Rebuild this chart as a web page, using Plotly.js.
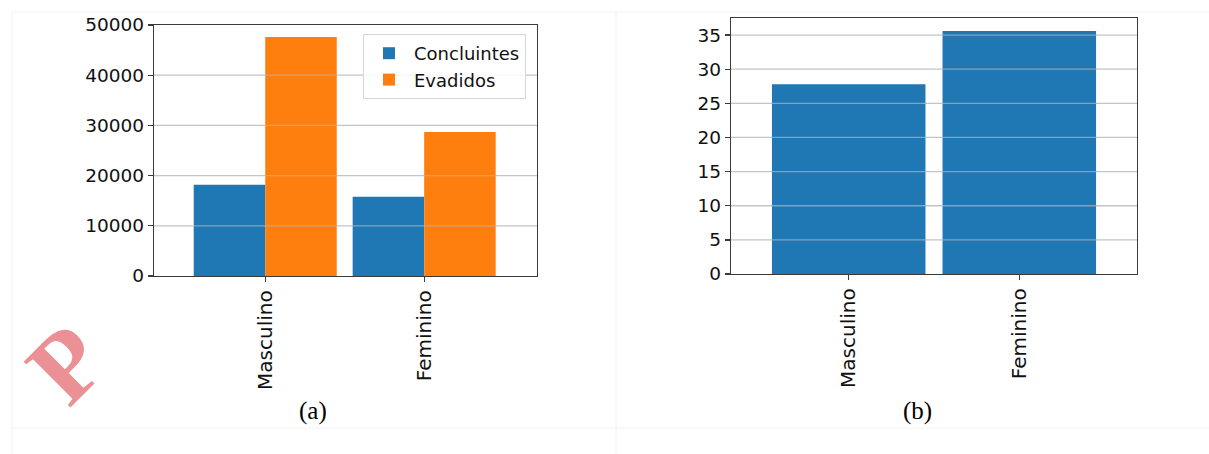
<!DOCTYPE html>
<html>
<head>
<meta charset="utf-8">
<script src="https://cdn.plot.ly/plotly-3.0.1.min.js"></script>
<style>
html,body{margin:0;padding:0;background:#fff;}
#chart{width:1209px;height:454px;}
</style>
</head>
<body>
<div id="chart"></div>
<script>
// ---- data ----
var categories = ["Masculino", "Feminino"];
var concluintes = [18200, 15800];
var evadidos = [47600, 28700];
var percentEvasao = [27.8, 35.6];
var yTicksA = [0, 10000, 20000, 30000, 40000, 50000];
var yTicksB = [0, 5, 10, 15, 20, 25, 30, 35];
var panelLabels = ["(a)", "(b)"];

var W = 1209, H = 454;
function px(x){ return x / W; }
function py(y){ return 1 - y / H; }

var blue = "#1f77b4", orange = "#ff7f0e";
var tickFont = {family: "DejaVu Sans", size: 18.5, color: "#111"};
var xTickFont = {family: "DejaVu Sans", size: 20, color: "#111"};

var traces = [
  {type: "bar", x: categories, y: concluintes, name: "Concluintes",
   marker: {color: blue}, xaxis: "x", yaxis: "y"},
  {type: "bar", x: categories, y: evadidos, name: "Evadidos",
   marker: {color: orange}, xaxis: "x", yaxis: "y"},
  {type: "bar", x: categories, y: percentEvasao, name: "% Evasão",
   marker: {color: blue}, xaxis: "x2", yaxis: "y2", showlegend: false, width: 0.9}
];

var axisCommon = {
  showline: true, mirror: true, linecolor: "#3a3a3a", linewidth: 1.3,
  ticks: "outside", ticklen: 5, tickcolor: "#3a3a3a", tickwidth: 1.3,
  showgrid: false, zeroline: false, fixedrange: true
};

var shapes = [];
// gridlines drawn above the bars, like the original
yTicksA.slice(1, -1).forEach(function(v){
  shapes.push({type: "line", xref: "x domain", yref: "y", x0: 0, x1: 1, y0: v, y1: v,
    line: {color: "rgba(176,176,176,0.75)", width: 1.3}, layer: "above"});
});
yTicksB.slice(1).forEach(function(v){
  shapes.push({type: "line", xref: "x2 domain", yref: "y2", x0: 0, x1: 1, y0: v, y1: v,
    line: {color: "rgba(176,176,176,0.75)", width: 1.3}, layer: "above"});
});
// faint page frame lines
var frameColor = "#f2f2f2";
shapes.push({type: "line", xref: "paper", yref: "paper", x0: px(12), x1: 1, y0: py(12), y1: py(12), line: {color: frameColor, width: 1}, layer: "below"});
shapes.push({type: "line", xref: "paper", yref: "paper", x0: px(12), x1: 1, y0: py(428), y1: py(428), line: {color: frameColor, width: 1}, layer: "below"});
shapes.push({type: "line", xref: "paper", yref: "paper", x0: px(12), x1: px(12), y0: py(12), y1: 0, line: {color: frameColor, width: 1}, layer: "below"});
shapes.push({type: "line", xref: "paper", yref: "paper", x0: px(616), x1: px(616), y0: py(12), y1: 0, line: {color: frameColor, width: 1}, layer: "below"});

var layout = {
  width: W, height: H,
  margin: {l: 0, r: 0, t: 0, b: 0},
  paper_bgcolor: "#ffffff", plot_bgcolor: "#ffffff",
  barmode: "group", bargap: 0.1, bargroupgap: 0,
  showlegend: true,
  legend: {
    x: px(526), y: py(34), xanchor: "right", yanchor: "top",
    bgcolor: "rgba(255,255,255,0.85)", bordercolor: "#d6d6d6", borderwidth: 1,
    font: {family: "DejaVu Sans", size: 18, color: "#111"},
    itemwidth: 40, tracegroupgap: 2
  },
  xaxis: Object.assign({}, axisCommon, {
    domain: [px(154), px(537)], anchor: "y", type: "category",
    range: [-0.7, 1.71], tickangle: -90, tickfont: xTickFont
  }),
  yaxis: Object.assign({}, axisCommon, {
    domain: [py(276), py(25)], anchor: "x",
    range: [0, 50000], tickvals: yTicksA, ticktext: yTicksA.map(String), tickfont: tickFont
  }),
  xaxis2: Object.assign({}, axisCommon, {
    domain: [px(731), px(1137)], anchor: "y2", type: "category",
    range: [-0.69, 1.69], tickangle: -90, tickfont: xTickFont
  }),
  yaxis2: Object.assign({}, axisCommon, {
    domain: [py(274), py(18)], anchor: "x2",
    range: [0, 37.5], tickvals: yTicksB, ticktext: yTicksB.map(String), tickfont: tickFont
  }),
  shapes: shapes,
  annotations: [
    {xref: "paper", yref: "paper", x: px(313), y: py(411), text: panelLabels[0], showarrow: false,
     font: {family: "Liberation Serif", size: 25, color: "#000"}, xanchor: "center", yanchor: "middle"},
    {xref: "paper", yref: "paper", x: px(918), y: py(411), text: panelLabels[1], showarrow: false,
     font: {family: "Liberation Serif", size: 25, color: "#000"}, xanchor: "center", yanchor: "middle"},
    {xref: "paper", yref: "paper", x: px(66), y: py(364), text: "<b>P</b>", showarrow: false, textangle: -45,
     font: {family: "Liberation Serif", size: 100, color: "rgba(218,52,62,0.55)"}, xanchor: "center", yanchor: "middle"}
  ]
};

Plotly.newPlot("chart", traces, layout, {displayModeBar: false, staticPlot: true});
</script>
</body>
</html>
